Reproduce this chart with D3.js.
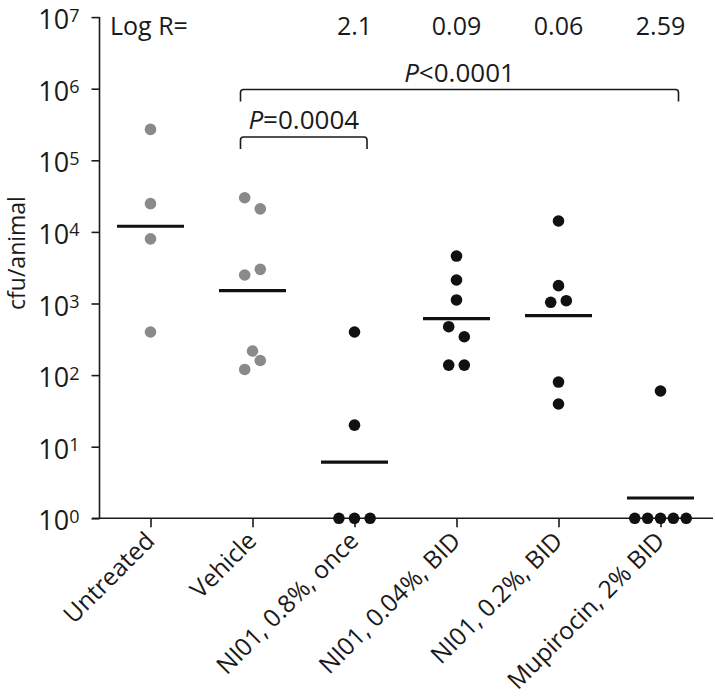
<!DOCTYPE html>
<html><head><meta charset="utf-8">
<script src="https://cdn.jsdelivr.net/npm/d3@7"></script>
<style>
body{margin:0;background:#fff}
text{font-family:"Open Sans",sans-serif;fill:#1a1a1a;font-weight:400}
</style>
</head><body><svg id="c" width="715" height="697"></svg>
<script>
// ---------------- data ----------------
const categories = ["Untreated","Vehicle","NI01, 0.8%, once","NI01, 0.04%, BID","NI01, 0.2%, BID","Mupirocin, 2% BID"];
const untreated   = [270000, 24800, 8000, 400];
const vehicle     = [30000, 21000, 3000, 2500, 217, 160, 120];
const ni01_08once = [400, 20, 1, 1, 1];
const ni01_004bid = [4600, 2130, 1120, 474, 343, 138, 138];
const ni01_02bid  = [14200, 1774, 1094, 1040, 80, 39.5];
const mupirocin   = [60, 1, 1, 1, 1, 1];
const groupMeans  = [12000, 1510, 6.1, 613, 676, 1.92];
const logR        = ["", "", "2.1", "0.09", "0.06", "2.59"];
const logRLabel   = "Log R=";
const yTickValues = [1, 10, 100, 1e3, 1e4, 1e5, 1e6, 1e7];
// horizontal dodge order of the points within each column (as arranged in the figure)
const dodgeSlots  = [[0,0,0,0],[-1,1,1,-1,0,1,-1],[0,0,-2,0,2],[0,0,0,-1,1,-1,1],[0,0,1,-1,0,0],[0,-3.3,-1.65,0,1.65,3.3]];
const comparisons = [
  {from:"Vehicle", to:"Mupirocin, 2% BID", op:"<", p:"0.0001"},
  {from:"Vehicle", to:"NI01, 0.8%, once", op:"=", p:"0.0004"}
];
const yLabel = "cfu/animal";
const seriesValues = [untreated, vehicle, ni01_08once, ni01_004bid, ni01_02bid, mupirocin];

// ---------------- style / layout ----------------
const grayCols = new Set(["Untreated","Vehicle"]);
const colGray = "#8a8a8a", colBlack = "#111", ink = "#1a1a1a";
const slotUnit = 7.8, dotR = 5.8, meanHalf = 33.5;

const svg = d3.select("#c");
const x = d3.scalePoint().domain(categories).range([99.5, 711.5]).padding(0.5);
const y = d3.scaleLog().domain([1, 1e7]).range([518.3, 17.1]);

// y axis
const yAx = svg.append("g").attr("transform","translate(99.5,0)")
  .call(d3.axisLeft(y).tickValues(yTickValues).tickSize(8).tickFormat(""));
yAx.select(".domain").attr("stroke",ink).attr("stroke-width",1.6).attr("d","M0,"+y(1)+"V"+y(1e7));
yAx.selectAll(".tick line").attr("stroke",ink).attr("stroke-width",1.6);
yAx.selectAll(".tick text").remove();
yAx.selectAll(".tick").each(function(d){
  const t = d3.select(this).append("text").attr("x",-20).attr("y",0).attr("dy","0.43em")
    .attr("text-anchor","end").attr("fill",ink).style("font-size","27px");
  t.append("tspan").text("10");
  t.append("tspan").attr("dy","-0.42em").style("font-size","18px").text(Math.round(Math.log10(d)));
});

// x axis
const xAx = svg.append("g").attr("transform","translate(0,"+y(1)+")")
  .call(d3.axisBottom(x).tickSize(9));
xAx.select(".domain").attr("stroke",ink).attr("stroke-width",1.6).attr("d","M92,0H713");
xAx.selectAll(".tick line").attr("stroke",ink).attr("stroke-width",1.6);
xAx.selectAll(".tick text")
  .attr("x",0).attr("y",0)
  .attr("text-anchor","end").attr("dy","0.35em")
  .attr("transform","translate(-1,18) rotate(-45)")
  .attr("fill",ink)
  .style("font-size","24.5px");

// y label
svg.append("text").attr("transform","translate(25,253) rotate(-90)")
  .attr("text-anchor","middle").attr("fill",ink).style("font-size","23px").text(yLabel);

// dots
categories.forEach((c,i)=>{
  const pts = seriesValues[i].map((v,j)=>({v, s: dodgeSlots[i][j]}));
  svg.append("g").selectAll("circle").data(pts).join("circle")
    .attr("cx", d=>x(c) + d.s*slotUnit)
    .attr("cy", d=>y(d.v))
    .attr("r", dotR)
    .attr("fill", grayCols.has(c) ? colGray : colBlack);
});

// mean lines
svg.append("g").selectAll("line").data(categories).join("line")
  .attr("x1", c=>x(c)-meanHalf).attr("x2", c=>x(c)+meanHalf)
  .attr("y1", (c,i)=>y(groupMeans[i])).attr("y2", (c,i)=>y(groupMeans[i]))
  .attr("stroke", colBlack).attr("stroke-width", 3.2);

// Log R row
svg.append("text").attr("x",110).attr("y",35).attr("fill",ink).style("font-size","25px").text(logRLabel);
svg.append("g").selectAll("text").data(categories).join("text")
  .attr("x", c=>x(c)).attr("y",35).attr("text-anchor","middle").attr("fill",ink).style("font-size","25px")
  .text((c,i)=>logR[i]);

// comparison brackets
const levels = [89.5, 137];
const rightPad = [18, 12.5];
comparisons.forEach((cmp,k)=>{
  const x0 = x(cmp.from) - 12, x1 = x(cmp.to) + rightPad[k], yy = levels[k], h = 12, r = 3;
  svg.append("path")
    .attr("d", `M${x0},${yy+h}V${yy+r}Q${x0},${yy} ${x0+r},${yy}H${x1-r}Q${x1},${yy} ${x1},${yy+r}V${yy+h}`)
    .attr("fill","none").attr("stroke",ink).attr("stroke-width",1.6);
  const t = svg.append("text").attr("x",(x0+x1)/2).attr("y",yy-8).attr("text-anchor","middle")
    .attr("fill",ink).style("font-size","26px");
  t.append("tspan").style("font-style","italic").text("P");
  t.append("tspan").text(cmp.op + cmp.p);
});
</script></body></html>
